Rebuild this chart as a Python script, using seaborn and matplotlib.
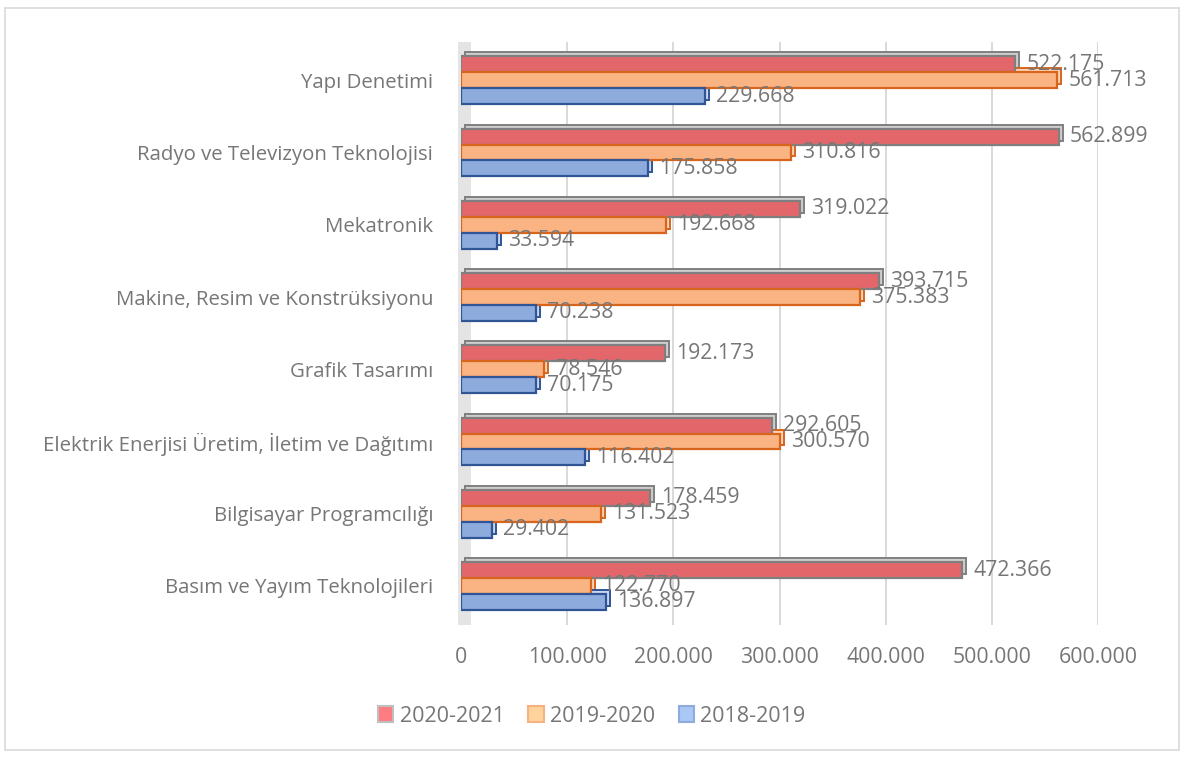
import pandas as pd
import matplotlib.pyplot as plt
import matplotlib.transforms as mtransforms
from matplotlib.patches import Rectangle, Patch
from matplotlib.ticker import FuncFormatter
import seaborn as sns

# Data
categories = ['Yapı Denetimi', 'Radyo ve Televizyon Teknolojisi', 'Mekatronik',
              'Makine, Resim ve Konstrüksiyonu', 'Grafik Tasarımı',
              'Elektrik Enerjisi Üretim, İletim ve Dağıtımı',
              'Bilgisayar Programcılığı', 'Basım ve Yayım Teknolojileri']
series = ['2020-2021', '2019-2020', '2018-2019']
vals_2020_2021 = [522175, 562899, 319022, 393715, 192173, 292605, 178459, 472366]
vals_2019_2020 = [561713, 310816, 192668, 375383, 78546, 300570, 131523, 122770]
vals_2018_2019 = [229668, 175858, 33594, 70238, 70175, 116402, 29402, 136897]
x_ticks = [0, 100000, 200000, 300000, 400000, 500000, 600000]

df = pd.DataFrame({
    'Bolum': categories * 3,
    'Yil': [s for s in series for _ in categories],
    'Ogrenci': vals_2020_2021 + vals_2019_2020 + vals_2018_2019,
})

face = {'2020-2021': '#E3676A', '2019-2020': '#FAB383', '2018-2019': '#8EABDD'}
edge = {'2020-2021': '#7F7F7F', '2019-2020': '#D8651C', '2018-2019': '#2F5597'}
back = {'2020-2021': '#D0CDCD', '2019-2020': '#FBD3B6', '2018-2019': '#C9D6EF'}
leg_face = {'2020-2021': '#FF7C80', '2019-2020': '#FFD39B', '2018-2019': '#A9C8F5'}
leg_edge = {'2020-2021': '#BFBFBF', '2019-2020': '#F4B183', '2018-2019': '#8FAADC'}
txt = '#767676'

plt.rcParams['font.family'] = ['Open Sans', 'DejaVu Sans']

fig = plt.figure(figsize=(11.84, 7.58), dpi=100)
ax = fig.add_axes([461 / 1184, 1 - 625 / 758, (1098 - 461) / 1184, (625 - 42) / 758])

sns.barplot(data=df, y='Bolum', x='Ogrenci', hue='Yil', order=categories,
            hue_order=series, palette=face, saturation=1, orient='h', width=0.66,
            legend=False, ax=ax, zorder=3)

# 3D look: offset copy behind each bar + coloured edges
offset = mtransforms.ScaledTranslation(4 / 100, 4 / 100, fig.dpi_scale_trans)
for cont, s in zip(ax.containers, series):
    for p in cont.patches:
        p.set_edgecolor(edge[s])
        p.set_linewidth(1.6)
        sh = Rectangle(p.get_xy(), p.get_width(), p.get_height(),
                       transform=ax.transData + offset, facecolor=back[s],
                       edgecolor=edge[s], linewidth=1.4, zorder=2)
        ax.add_patch(sh)
    ax.bar_label(cont, labels=[f"{v:,.0f}".replace(',', '.') for v in cont.datavalues],
                 padding=8, fontsize=15.3, color=txt, zorder=5)

# left wall strip
ax.add_patch(Rectangle((-0.004, 0), 0.02, 1, transform=ax.transAxes,
                       facecolor='#E4E4E4', edgecolor='none', zorder=1, clip_on=False))

ax.set_xlim(0, 600000)
ax.set_ylim(7.54, -0.53)
ax.set_xticks(x_ticks)
ax.xaxis.set_major_formatter(FuncFormatter(lambda v, _: f"{v:,.0f}".replace(',', '.')))
ax.grid(axis='x', color='#D9D9D9', linewidth=1.4, zorder=0)
ax.set_axisbelow(True)
ax.set_xlabel('')
ax.set_ylabel('')
ax.tick_params(axis='x', length=0, pad=16, labelsize=15.3, labelcolor=txt)
ax.tick_params(axis='y', length=0, pad=20, labelsize=14.7, labelcolor=txt)
for sp in ax.spines.values():
    sp.set_visible(False)

handles = [Patch(facecolor=leg_face[s], edgecolor=leg_edge[s], linewidth=1.5, label=s)
           for s in series]
fig.legend(handles=handles, loc='center', bbox_to_anchor=(0.5, 1 - 716 / 758), ncol=3,
           frameon=False, fontsize=15.5, labelcolor=txt, handlelength=0.7,
           handleheight=0.7, handletextpad=0.3, columnspacing=1.1)

# chart border
fig.patches.append(Rectangle((5 / 1184, 8 / 758), 1174 / 1184, 742 / 758,
                             transform=fig.transFigure, fill=False,
                             edgecolor='#D9D9D9', linewidth=1.2))

fig.savefig('out.png', dpi=100)
